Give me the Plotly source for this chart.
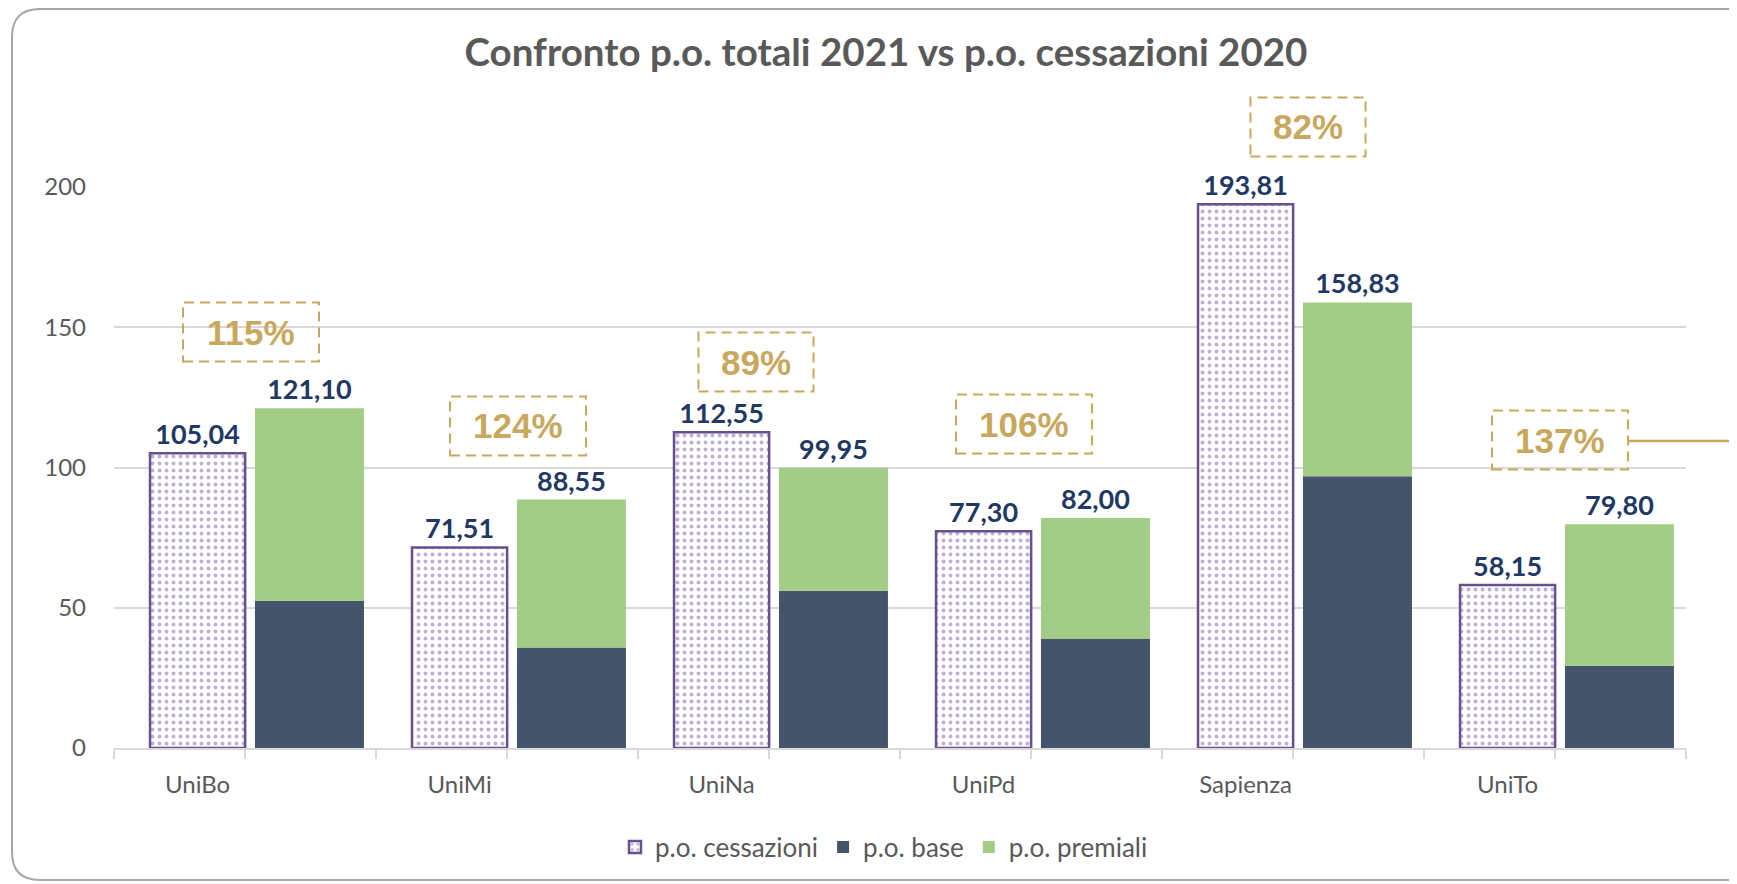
import plotly.graph_objects as go

# ---------------- data ----------------
universities = ["UniBo", "UniMi", "UniNa", "UniPd", "Sapienza", "UniTo"]
cessazioni = [105.04, 71.51, 112.55, 77.30, 193.81, 58.15]
po_base = [52.50, 35.80, 56.10, 38.90, 96.90, 29.30]
po_premiali = [68.60, 52.75, 43.85, 43.10, 61.93, 50.50]
y_ticks = [0, 50, 100, 150, 200]

# hand-placed percentage text boxes (chart units / pixel nudges)
box_y = [148.3, 114.8, 137.6, 115.5, 221.4, 109.8]
box_dx_px = [6, 11, -13, -7, 15, 5]

# ---------------- geometry (page pixels) ----------------
PAGE_W, PAGE_H = 1737, 884
OFF = 8  # default body margin of the html page
W, H = PAGE_W - OFF, PAGE_H - OFF
plot_left, plot_right, plot_top, plot_bottom = 114, 1686, 187, 748
L = plot_left - OFF
T = plot_top - OFF
R = PAGE_W - plot_right
B = PAGE_H - plot_bottom
plot_w = plot_right - plot_left
plot_h = plot_bottom - plot_top
n = len(universities)
px_per_unit = plot_w / n

ces_offset, ces_width = -0.181, 0.363
stk_offset, stk_width = 0.246, 0.416

idx = list(range(n))
ces_x = [i + ces_offset for i in idx]
stk_x = [i + stk_offset for i in idx]
totals = [round(b + p, 2) for b, p in zip(po_base, po_premiali)]


def fmt(v):
    return f"{v:.2f}".replace(".", ",")


def px2paper(px, py):
    return (px - plot_left) / plot_w, (plot_bottom - py) / plot_h


label_font = dict(family="Lato", size=27, color="#1F3864")

fig = go.Figure()
fig.add_trace(go.Bar(
    x=ces_x, y=cessazioni, width=ces_width, name="p.o. cessazioni",
    marker=dict(color="white",
                pattern=dict(shape=".", fgcolor="#7F5FB0", bgcolor="white",
                             size=7, solidity=0.25),
                line=dict(color="#66508E", width=2.5)),
    text=[f"<b>{fmt(v)}</b>" for v in cessazioni], textposition="outside",
    textfont=label_font, outsidetextfont=label_font,
    constraintext="none", cliponaxis=False,
))
fig.add_trace(go.Bar(
    x=stk_x, y=po_base, width=stk_width, name="p.o. base",
    marker=dict(color="#44546A", line=dict(width=0)),
))
fig.add_trace(go.Bar(
    x=stk_x, y=po_premiali, width=stk_width, name="p.o. premiali",
    marker=dict(color="#A3CD86", line=dict(width=0)),
    text=[f"<b>{fmt(v)}</b>" for v in totals], textposition="outside",
    textfont=label_font, outsidetextfont=label_font,
    constraintext="none", cliponaxis=False,
))

gold = "#C8A85E"
shapes = []
annotations = []
for i in idx:
    pct = round(totals[i] / cessazioni[i] * 100)
    txt = f"{pct}%"
    xp = i + box_dx_px[i] / px_per_unit
    pxx = (xp + 0.5) / n
    pyy = box_y[i] / 200
    w = 52 + 21 * len(txt)
    annotations.append(dict(
        x=pxx, y=pyy, xref="paper", yref="paper", text=f"<b>{txt}</b>",
        showarrow=False, xanchor="center", yanchor="middle",
        font=dict(family="Liberation Sans, Arial, sans-serif", size=35, color=gold)))
    shapes.append(dict(
        type="rect", xref="paper", yref="paper",
        xsizemode="pixel", ysizemode="pixel", xanchor=pxx, yanchor=pyy,
        x0=-w / 2, x1=w / 2, y0=-29.5, y1=29.5,
        line=dict(color=gold, width=2, dash="10px,6px"),
        fillcolor="rgba(0,0,0,0)"))
    if i == n - 1:
        shapes.append(dict(
            type="line", xref="paper", yref="paper",
            xsizemode="pixel", ysizemode="pixel", xanchor=pxx, yanchor=pyy,
            x0=w / 2, x1=w / 2 + 250, y0=-1, y1=-1,
            line=dict(color=gold, width=2.5)))

# chart frame (rounded corners, cut off on the right)
fl, ft, fb, fr, rad = 12, 9, 880, 1800, 28
pts = {
    "a": px2paper(fl + rad, ft), "b": px2paper(fr, ft), "c": px2paper(fr, fb),
    "d": px2paper(fl + rad, fb), "e": px2paper(fl, fb), "f": px2paper(fl, fb - rad),
    "g": px2paper(fl, ft + rad), "h": px2paper(fl, ft),
}
p = lambda k: f"{pts[k][0]:.5f},{pts[k][1]:.5f}"
path = (f"M {p('a')} L {p('b')} L {p('c')} L {p('d')} Q {p('e')} {p('f')} "
        f"L {p('g')} Q {p('h')} {p('a')} Z")
shapes.append(dict(type="path", xref="paper", yref="paper", path=path,
                   line=dict(color="#A6A6A6", width=2), layer="below"))

half_ticks = [k / 2 - 0.5 for k in range(2 * n + 1)]

lx, ly = px2paper(884, 847)

fig.update_layout(
    width=W, height=H,
    margin=dict(l=L, r=R, t=T, b=B),
    paper_bgcolor="white", plot_bgcolor="white",
    barmode="relative",
    font=dict(family="Lato", color="#595959"),
    title=dict(text="<b>Confronto p.o. totali 2021 vs p.o. cessazioni 2020</b>",
               x=(886 - OFF) / W, y=1 - (53 - OFF) / H,
               xanchor="center", yanchor="middle",
               xref="container", yref="container",
               font=dict(family="Lato", size=38.5, color="#595959")),
    xaxis=dict(range=[-0.5, n - 0.5], tickmode="array", tickvals=ces_x,
               ticktext=universities, ticks="", showgrid=False, zeroline=False,
               showline=True, linecolor="#D9D9D9", linewidth=2,
               tickfont=dict(family="Lato", size=24, color="#595959"),
               ticklabelstandoff=14,
               minor=dict(tickmode="array", tickvals=half_ticks, ticks="outside",
                          ticklen=9, tickwidth=2, tickcolor="#D9D9D9", showgrid=False)),
    yaxis=dict(range=[0, 200], tickmode="array", tickvals=y_ticks,
               ticks="", showline=False, zeroline=False,
               showgrid=True, gridcolor="#D9D9D9", gridwidth=1.5,
               tickfont=dict(family="Lato", size=24, color="#595959"),
               ticklabelstandoff=27),
    legend=dict(orientation="h", x=lx, y=ly,
                xanchor="center", yanchor="middle",
                font=dict(family="Lato", size=26, color="#595959"),
                itemwidth=30, traceorder="normal"),
    shapes=shapes, annotations=annotations,
    showlegend=True,
)

fig.write_html("out.html")
